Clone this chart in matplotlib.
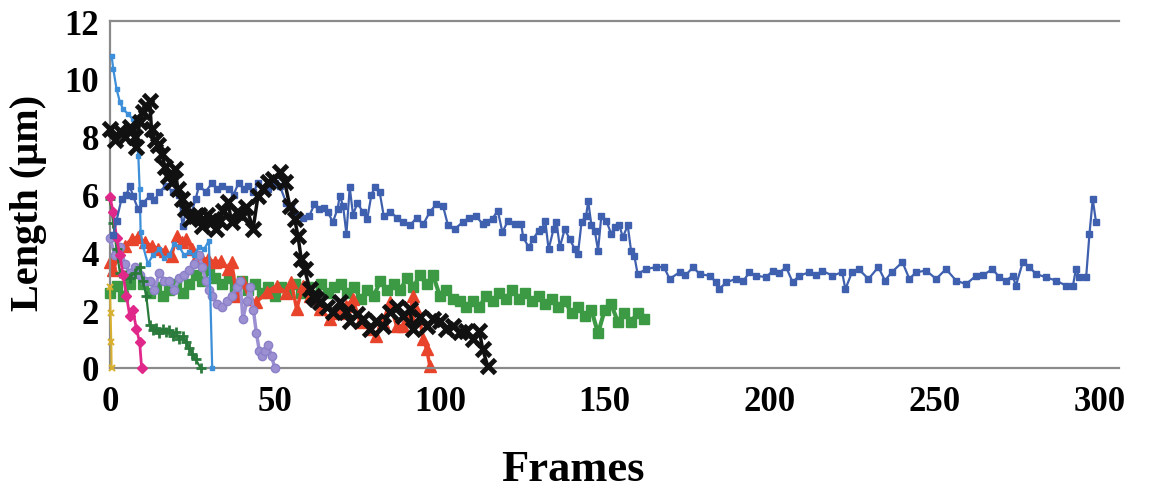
import numpy as np
import matplotlib
matplotlib.use("Agg")
import matplotlib.pyplot as plt

# frames / length (um) for each track
db_x = [1, 2, 3.5, 5, 6, 7, 8.5, 10, 12, 13.5,
        15, 17, 19, 21, 22, 23, 24.5, 26, 27, 29,
        31, 32.5, 34, 36, 37.5, 39, 40.5, 42, 43.5, 45,
        46.5, 48, 50, 51.5, 53.5, 55, 56.5, 58.5, 60.5, 62,
        63.5, 65, 66, 67.6, 69, 69.7, 70.7, 71.7, 72.7, 73.7,
        75, 76.7, 78, 79.3, 80.3, 81.8, 83, 85, 87, 89,
        91, 93, 95, 97, 99, 101, 102.5, 104.5, 107, 109,
        111, 113, 114, 116, 117.6, 119, 120.7, 122.7, 124.7, 125.3,
        127, 128.3, 130, 131, 132, 133, 134.5, 135.4, 136.4, 137.9,
        139.4, 141, 141.9, 143, 144.4, 145, 146, 147, 148, 149,
        150.5, 152, 153, 154.5, 155.5, 157, 158, 159, 160, 162.6,
        165.6, 168, 169.7, 172.7, 174.5, 176.8, 178.8, 181.8, 183.8, 184.8,
        186.9, 189.9, 192, 193.9, 196, 199, 201, 203, 205, 207,
        209, 212, 214, 216, 219, 222, 223, 225, 227, 230,
        233, 235, 237, 240.3, 242.4, 244.4, 247.5, 250.5, 253.5, 256.6,
        259.6, 262.6, 264.6, 267.6, 269.7, 271.7, 273.7, 274.7, 276.8, 278.8,
        280.8, 283.8, 286.9, 289.9, 292, 292.9, 293.9, 296, 297, 298,
        299]
db_y = [4.6, 5.1, 5.85, 6.0, 6.3, 5.95, 5.5, 5.7, 5.95, 5.8,
        6.1, 6.3, 6.1, 6.0, 4.9, 5.4, 5.3, 5.85, 6.3, 6.1,
        6.4, 6.2, 6.3, 6.2, 6.0, 6.4, 6.2, 6.3, 6.1, 6.4,
        6.2, 6.2, 6.4, 6.3, 5.7, 5.6, 5.3, 5.2, 5.27, 5.67,
        5.5, 5.55, 5.4, 5.05, 5.5, 5.96, 5.6, 4.63, 6.25, 5.3,
        5.7, 5.4, 5.15, 6.0, 6.25, 6.07, 5.27, 5.4, 5.2, 5.05,
        4.93, 5.2, 4.97, 5.4, 5.67, 5.6, 4.93, 4.8, 5.05, 5.2,
        5.27, 4.97, 5.05, 5.17, 5.44, 4.69, 5.1, 4.97, 4.97, 4.52,
        4.17, 4.46, 4.75, 4.8, 5.1, 4.1, 4.8, 5.05, 4.18, 4.8,
        4.46, 4.1, 3.94, 5.05, 5.27, 5.78, 4.93, 4.75, 4.06, 5.27,
        5.1, 4.63, 4.87, 4.93, 4.52, 4.93, 4.06, 3.88, 3.25, 3.42,
        3.49, 3.49, 3.08, 3.31, 3.2, 3.49, 3.25, 3.19, 2.97, 2.73,
        2.97, 3.08, 3.0, 3.31, 3.19, 3.14, 3.37, 3.3, 3.49, 2.97,
        3.19, 3.31, 3.2, 3.37, 3.19, 3.31, 2.73, 3.31, 3.42, 3.08,
        3.49, 3.02, 3.31, 3.66, 3.08, 3.31, 3.37, 3.08, 3.42, 3.02,
        2.9, 3.19, 3.2, 3.42, 3.14, 3.02, 3.19, 2.85, 3.66, 3.49,
        3.25, 3.14, 3.02, 2.85, 2.85, 3.42, 3.14, 3.14, 4.63, 5.84,
        5.04]

blk_x = [0, 1.5, 3, 4.5, 6, 7.5, 8, 9, 10, 11,
         12, 12.6, 13.6, 14.6, 15.7, 16.7, 17.6, 18.7, 19.7, 20.6,
         21.7, 22.7, 24.2, 25.8, 27, 28, 29.3, 30.3, 31.2, 32.3,
         33.3, 34.3, 35.8, 36.9, 38.4, 39.9, 41.4, 43.4, 44.9, 46.4,
         47.9, 49.4, 51.5, 53, 54.5, 56, 57, 58, 59, 60.6,
         61.6, 62.6, 63.6, 65.7, 67.7, 69.7, 71.7, 72.7, 74.8, 76.8,
         78.8, 80.8, 82.8, 84.8, 86.9, 88.8, 90.9, 91.9, 93.9, 96,
         98, 100, 102, 104, 106, 108, 110, 112, 113, 114.5]
blk_y = [8.26, 7.9, 8.2, 8.0, 8.33, 8.0, 7.64, 8.5, 8.85, 9.07,
         9.25, 8.26, 7.9, 7.7, 7.4, 6.95, 6.65, 6.43, 6.88, 6.19,
         5.84, 5.5, 5.15, 5.27, 5.3, 4.9, 5.3, 5.0, 5.15, 4.8,
         5.1, 5.44, 5.73, 5.04, 5.38, 5.27, 5.56, 4.81, 5.96, 6.19,
         6.43, 6.53, 6.77, 6.43, 5.61, 5.15, 4.57, 3.77, 3.42, 2.73,
         2.5, 2.4, 2.27, 2.1, 1.92, 2.27, 1.92, 1.64, 1.87, 1.7,
         1.35, 1.64, 1.46, 1.92, 2.1, 1.81, 2.04, 1.35, 1.75, 1.46,
         1.7, 1.64, 1.35, 1.46, 1.23, 1.28, 1.0, 1.28, 0.66, 0.08]

grn_x = list(range(0, 164, 2))
grn_y = [2.6, 2.85, 2.5, 2.9, 3.3, 2.9, 2.6, 2.8, 2.5, 2.7,
         2.9, 2.6, 2.9, 3.2, 3.0, 3.4, 3.1, 2.9, 3.1, 2.8,
         3.0, 2.7, 2.9, 2.6, 2.8, 2.5, 2.8, 2.6, 2.9, 2.6,
         2.8, 2.5, 2.9, 2.6, 2.8, 2.9, 2.6, 2.8, 2.4, 2.7,
         2.5, 3.0, 2.7, 2.9, 2.7, 3.1, 2.8, 3.2, 2.9, 3.2,
         2.5, 2.7, 2.4, 2.3, 2.1, 2.3, 2.1, 2.5, 2.3, 2.6,
         2.4, 2.7, 2.4, 2.6, 2.3, 2.5, 2.2, 2.4, 2.1, 2.3,
         1.9, 2.1, 1.8, 2.0, 1.2, 2.0, 2.2, 1.6, 1.9, 1.6,
         1.9, 1.7]

red_x = [0, 1, 2.5, 4.5, 6.6, 8.5, 10.6, 12.6, 14.6, 16.7,
         18.7, 20.2, 21.7, 23.2, 24.8, 26.3, 27.8, 29.7, 31.8, 33.8,
         35.8, 36.9, 38.4, 40.4, 42.4, 44.4, 47.5, 50.5, 53.5, 55,
         56.6, 58.6, 60.6, 63.6, 66.7, 69, 71.7, 73.7, 75.8, 78.8,
         80.8, 82.8, 84.8, 86.9, 88.9, 90.9, 91.9, 92.9, 93.9, 95,
         96, 97]
red_y = [3.66, 3.4, 3.88, 4.23, 4.46, 4.52, 4.35, 4.23, 4.12, 4.06,
         3.88, 4.58, 4.35, 4.46, 4.12, 3.88, 3.77, 3.77, 3.66, 3.71,
         3.42, 3.66, 2.5, 2.97, 2.38, 2.27, 2.62, 2.85, 2.6, 2.97,
         2.04, 2.85, 2.5, 2.04, 1.7, 1.9, 2.15, 2.38, 1.58, 1.35,
         1.12, 1.58, 2.27, 1.46, 1.46, 1.81, 2.5, 2.04, 1.7, 1.0,
         0.66, 0.08]

lb_x = [0.5, 1, 2, 3, 4, 5.5, 7, 7.6, 8, 8.6,
        9, 9.3, 10, 11.5, 13, 15, 16.5, 18, 19.5, 21,
        22.5, 24, 25.5, 27, 28.5, 30, 31]
lb_y = [10.8, 10.34, 9.65, 9.2, 8.95, 8.78, 8.6, 8.15, 7.9, 7.34,
        6.2, 4.7, 4.23, 3.6, 3.9, 4.1, 3.8, 3.9, 4.3, 4.2,
        3.9, 4.0, 3.9, 4.2, 4.1, 4.4, 0.0]

pur_x = [0, 1.5, 3, 4.5, 6, 7.5, 9, 10.5, 12, 13.5,
         15, 16.5, 18, 19.5, 21, 22.5, 24, 25.5, 27, 28,
         29, 30, 31, 32.5, 34, 35.5, 37, 38.5, 39.5, 40.3,
         41.5, 42.5, 43.5, 44.4, 45.3, 46, 47, 48, 49, 50]
pur_y = [4.5, 3.9, 4.2, 3.6, 3.3, 3.5, 3.2, 3.0, 3.0, 2.7,
         3.3, 3.0, 3.0, 2.7, 3.1, 3.2, 3.4, 3.6, 3.9, 3.5,
         3.0, 2.7, 2.5, 2.2, 2.1, 2.3, 2.5, 2.8, 3.0, 1.7,
         2.3, 2.8, 2.0, 1.2, 0.6, 0.4, 0.6, 0.8, 0.4, 0.0]

mag_x = [0, 1, 2, 3, 4, 5, 6, 7, 8, 9, 9.6]
mag_y = [5.9, 5.4, 4.5, 3.9, 3.2, 2.5, 1.8, 2.0, 1.35, 0.9, 0.0]

dg_x = [0, 1, 2, 3, 4.5, 6, 7.5, 9, 10, 11,
        12, 13, 14, 15, 16, 17, 18, 19, 20, 21,
        22, 23, 24, 25, 26, 27.5]
dg_y = [5.85, 5.0, 4.1, 3.3, 3.2, 3.1, 3.3, 3.5, 3.0, 2.5,
        1.5, 1.3, 1.4, 1.2, 1.35, 1.25, 1.3, 1.1, 1.25, 1.0,
        1.1, 0.9, 0.7, 0.5, 0.3, 0.0]

yel_x = [0, 0.2, 0.4, 0.5]
yel_y = [2.8, 1.9, 0.9, 0.0]

xticks = [0, 50, 100, 150, 200, 250, 300]
yticks = [0, 2, 4, 6, 8, 10, 12]

serif = ["Liberation Serif", "DejaVu Serif"]

fig = plt.figure(figsize=(11.49, 4.89), dpi=100)
ax = fig.add_axes([0.0957, 0.2454, 0.8783, 0.7096])

common = dict(clip_on=False)
ax.plot(grn_x, grn_y, color="#3c9a44", lw=3, marker="s", ms=7.5, mec="#3c9a44", zorder=2, **common)
ax.plot(red_x, red_y, color="#e8442c", lw=2.5, marker="^", ms=8, mec="#e8442c", zorder=2.5, **common)
ax.plot(pur_x, pur_y, color="#9c90d2", lw=2.5, marker="o", ms=6, mec="#8a80c8", zorder=3, **common)
ax.plot(lb_x, lb_y, color="#3c8fd8", lw=1.6, marker="s", ms=3, zorder=3.2, **common)
ax.plot(dg_x, dg_y, color="#2a7a3c", lw=1.6, marker="+", ms=7, mew=2, zorder=3.4, **common)
ax.plot(mag_x, mag_y, color="#e0288a", lw=2, marker="D", ms=5, zorder=3.5, **common)
ax.plot(yel_x, yel_y, color="#d8b030", lw=1.5, marker="x", ms=5, mew=1.5, zorder=3.6, **common)
ax.plot(db_x, db_y, color="#3f60ae", lw=1.6, marker="s", ms=4, mec="#3f60ae", zorder=4, **common)
ax.plot(blk_x, blk_y, color="#111111", lw=2.5, marker="x", ms=10, mew=3.5, zorder=5, **common)

ax.set_xlim(0, 306)
ax.set_ylim(0, 12)
ax.set_xticks(xticks)
ax.set_yticks(yticks)
ax.tick_params(length=0, labelsize=25)
ax.tick_params(axis="x", pad=12)
ax.tick_params(axis="y", pad=8)
for lab in ax.get_xticklabels() + ax.get_yticklabels():
    lab.set_family(serif)
    lab.set_fontweight("bold")

for side in ["left", "top", "bottom"]:
    ax.spines[side].set_linestyle((0, (1, 1)))
    ax.spines[side].set_color("#8a8a8a")
    ax.spines[side].set_linewidth(1.6)
ax.spines["right"].set_visible(False)

fig.text(0.4987, 0.016, "Frames", family=serif, fontweight="bold", fontsize=32,
         ha="center", va="baseline")
fig.text(0.025, 0.585, "Length (\u03bcm)", family=serif, fontweight="bold", fontsize=29,
         ha="center", va="center", rotation=90)

fig.savefig("out.png", dpi=100)
